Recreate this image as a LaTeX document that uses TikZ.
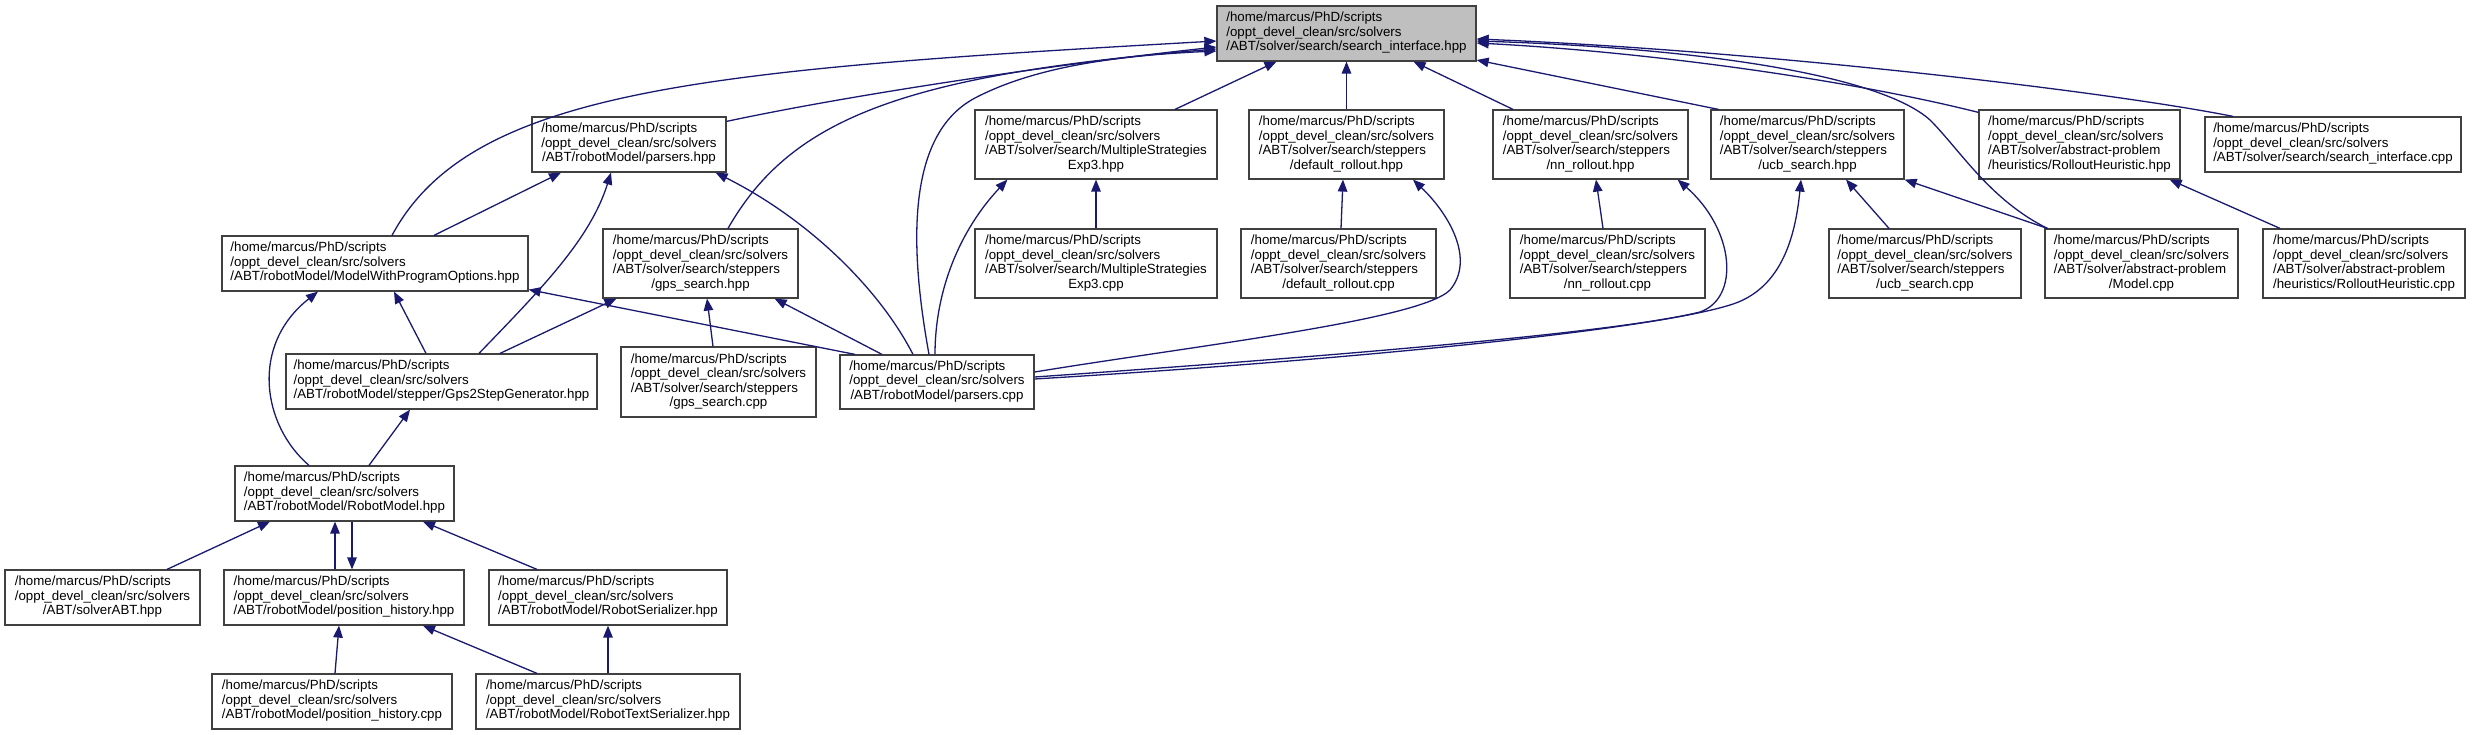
\documentclass[tikz,border=0pt]{standalone}
\usepackage{fontspec}
\setmainfont{Liberation Sans}
\usetikzlibrary{arrows.meta}
\definecolor{edgeblue}{RGB}{25,25,112}
\definecolor{boxline}{RGB}{64,64,64}
\definecolor{rootfill}{RGB}{191,191,191}
\newcommand{\lbl}[2]{\begin{tabular}{@{}l@{}}#1\\\multicolumn{1}{@{}c@{}}{#2}\end{tabular}}
\newcommand{\hd}{/home/marcus/PhD/scripts\\/oppt\_devel\_clean/src/solvers}
\begin{document}
\begin{tikzpicture}[x=1pt,y=1pt,
  font=\fontsize{13.3}{14.5}\selectfont,
  fbox/.style={draw=boxline, line width=1.2pt, fill=white, inner sep=0pt, minimum height=55pt},
  fbox4/.style={fbox, minimum height=69pt},
  dep/.style={draw=edgeblue, line width=1.3pt, -{Triangle[length=12pt,width=9.5pt]}}]
\useasboundingbox (0,0) rectangle (2478,-735);
% row 0
\node[fbox, fill=rootfill, minimum width=259pt] (root) at (1346.5,-33.5) {\lbl{\hd}{/ABT/solver/search/search\_interface.hpp}};
% row 1
\node[fbox, minimum width=194pt] (parsersH) at (629,-144.5) {\lbl{\hd}{/ABT/robotModel/parsers.hpp}};
\node[fbox4, minimum width=242pt] (mse3H) at (1096,-144.5) {\lbl{\hd\\/ABT/solver/search/MultipleStrategies}{Exp3.hpp}};
\node[fbox4, minimum width=195pt] (drH) at (1346.5,-144.5) {\lbl{\hd\\/ABT/solver/search/steppers}{/default\_rollout.hpp}};
\node[fbox4, minimum width=195pt] (nnH) at (1590.5,-144.5) {\lbl{\hd\\/ABT/solver/search/steppers}{/nn\_rollout.hpp}};
\node[fbox4, minimum width=193pt] (ucbH) at (1807.5,-144.5) {\lbl{\hd\\/ABT/solver/search/steppers}{/ucb\_search.hpp}};
\node[fbox4, minimum width=201pt] (rhH) at (2079.5,-144.5) {\lbl{\hd\\/ABT/solver/abstract-problem}{/heuristics/RolloutHeuristic.hpp}};
\node[fbox, minimum width=256pt] (sicpp) at (2333,-144.5) {\lbl{\hd}{/ABT/solver/search/search\_interface.cpp}};
% row 2
\node[fbox, minimum width=306pt] (mwpo) at (375,-263.5) {\lbl{\hd}{/ABT/robotModel/ModelWithProgramOptions.hpp}};
\node[fbox4, minimum width=195pt] (gpsH) at (700.5,-263.5) {\lbl{\hd\\/ABT/solver/search/steppers}{/gps\_search.hpp}};
\node[fbox4, minimum width=242pt] (mse3C) at (1096,-263.5) {\lbl{\hd\\/ABT/solver/search/MultipleStrategies}{Exp3.cpp}};
\node[fbox4, minimum width=195pt] (drC) at (1338.5,-263.5) {\lbl{\hd\\/ABT/solver/search/steppers}{/default\_rollout.cpp}};
\node[fbox4, minimum width=195pt] (nnC) at (1607.5,-263.5) {\lbl{\hd\\/ABT/solver/search/steppers}{/nn\_rollout.cpp}};
\node[fbox4, minimum width=192pt] (ucbC) at (1925,-263.5) {\lbl{\hd\\/ABT/solver/search/steppers}{/ucb\_search.cpp}};
\node[fbox4, minimum width=193pt] (modelC) at (2141.5,-263.5) {\lbl{\hd\\/ABT/solver/abstract-problem}{/Model.cpp}};
\node[fbox4, minimum width=202pt] (rhC) at (2364,-263.5) {\lbl{\hd\\/ABT/solver/abstract-problem}{/heuristics/RolloutHeuristic.cpp}};
% row 3
\node[fbox, minimum width=311pt] (gps2) at (441.5,-381.5) {\lbl{\hd}{/ABT/robotModel/stepper/Gps2StepGenerator.hpp}};
\node[fbox4, minimum width=195pt, minimum height=70pt] (gpsC) at (718.5,-382) {\lbl{\hd\\/ABT/solver/search/steppers}{/gps\_search.cpp}};
\node[fbox, minimum width=194pt, minimum height=54pt] (parsersC) at (937,-382) {\lbl{\hd}{/ABT/robotModel/parsers.cpp}};
% row 4
\node[fbox, minimum width=219pt] (robotModel) at (344.5,-493.5) {\lbl{\hd}{/ABT/robotModel/RobotModel.hpp}};
% row 5
\node[fbox, minimum width=195pt] (solverABT) at (102.5,-597.5) {\lbl{\hd}{/ABT/solverABT.hpp}};
\node[fbox, minimum width=240pt] (posH) at (344,-597.5) {\lbl{\hd}{/ABT/robotModel/position\_history.hpp}};
\node[fbox, minimum width=238pt] (robotSer) at (608,-597.5) {\lbl{\hd}{/ABT/robotModel/RobotSerializer.hpp}};
% row 6
\node[fbox, minimum width=240pt] (posC) at (332,-701.5) {\lbl{\hd}{/ABT/robotModel/position\_history.cpp}};
\node[fbox, minimum width=264pt] (rtSer) at (608,-701.5) {\lbl{\hd}{/ABT/robotModel/RobotTextSerializer.hpp}};
% edges to root
\draw[dep] ([xshift=17pt]mwpo.north) .. controls (470,-90) and (700,-70) .. ([yshift=-7.5pt]root.west);
\draw[dep] ([yshift=-5pt]parsersH.north east) .. controls (850,-95) and (1050,-65) .. ([yshift=-13.5pt]root.west);
\draw[dep] ([xshift=27.5pt]gpsH.north) .. controls (790,-120) and (900,-75) .. ([yshift=-15.5pt]root.west);
\draw[dep] ([xshift=-8pt]parsersC.north) .. controls (910,-250) and (905,-135) .. (975,-98) .. controls (1040,-64) and (1130,-55) .. ([yshift=-17.5pt]root.west);
\draw[dep] ([xshift=79pt]mse3H.north) -- ([xshift=-70pt]root.south);
\draw[dep] (drH.north) -- (root.south);
\draw[dep] ([xshift=-77.5pt]nnH.north) -- ([xshift=67pt]root.south);
\draw[dep] ([xshift=8pt]ucbH.north west) -- ([yshift=-26.5pt]root.east);
\draw[dep] ([yshift=-3pt]rhH.north west) .. controls (1850,-80) and (1650,-52) .. ([yshift=-9.5pt]root.east);
\draw[dep] ([xshift=-100pt]sicpp.north) .. controls (2100,-90) and (1750,-50) .. ([yshift=-5.5pt]root.east);
\draw[dep] ([xshift=3pt]modelC.north west) .. controls (1990,-200) and (1960,-150) .. (1930,-120) .. controls (1880,-75) and (1700,-48) .. ([yshift=-7.5pt]root.east);
% other edges
\draw[dep] ([xshift=59pt]mwpo.north) -- ([xshift=-68pt]parsersH.south);
\draw[dep] ([xshift=37.5pt]gps2.north) .. controls (540,-290) and (590,-240) .. ([xshift=-18pt]parsersH.south);
\draw[dep] ([xshift=-24pt]parsersC.north) .. controls (880,-290) and (810,-220) .. ([xshift=-11pt]parsersH.south east);
\draw[dep] ([xshift=-82pt]parsersC.north) -- ([yshift=2pt]mwpo.south east);
\draw[dep] ([xshift=-55pt]parsersC.north) -- ([xshift=-24pt]gpsH.south east);
\draw[dep] ([xshift=-2pt]parsersC.north) .. controls (935,-290) and (960,-230) .. ([xshift=33pt]mse3H.south west);
\draw[dep] (mse3C.north) -- (mse3H.south);
\draw[dep] ([xshift=2.5pt]drC.north) -- ([xshift=-3.5pt]drH.south);
\draw[dep] ([yshift=10pt]parsersC.east) .. controls (1200,-345) and (1420,-320) .. (1450,-290) .. controls (1475,-260) and (1450,-215) .. ([xshift=66.5pt]drH.south);
\draw[dep] ([xshift=-4.5pt]nnC.north) -- ([xshift=5.5pt]nnH.south);
\draw[dep] ([yshift=5pt]parsersC.east) .. controls (1350,-355) and (1620,-332) .. (1700,-312) .. controls (1740,-298) and (1735,-230) .. ([xshift=-11pt]nnH.south east);
\draw[dep] ([yshift=3pt]parsersC.east) .. controls (1350,-360) and (1650,-330) .. (1730,-305) .. controls (1780,-290) and (1795,-240) .. ([xshift=-6.5pt]ucbH.south);
\draw[dep] ([xshift=-36pt]ucbC.north) -- ([xshift=38.5pt]ucbH.south);
\draw[dep] ([xshift=3pt]modelC.north west) -- (ucbH.south east);
\draw[dep] ([xshift=-84pt]rhC.north) -- ([xshift=-11pt]rhH.south east);
\draw[dep] ([xshift=58.5pt]gps2.north) -- ([xshift=14pt]gpsH.south west);
\draw[dep] ([xshift=-5.5pt]gpsC.north) -- ([xshift=6.5pt]gpsH.south);
\draw[dep] ([xshift=-15.5pt]gps2.north) -- ([xshift=19pt]mwpo.south);
\draw[dep] ([xshift=-35.5pt]robotModel.north) .. controls (262,-425) and (250,-345) .. ([xshift=-57pt]mwpo.south);
\draw[dep] ([xshift=24.5pt]robotModel.north) -- ([xshift=-31.5pt]gps2.south);
\draw[dep] ([xshift=64.5pt]solverABT.north) -- ([xshift=-74.5pt]robotModel.south);
\draw[dep] ([xshift=-9pt]posH.north) -- ([xshift=-9.5pt]robotModel.south);
\draw[dep] ([xshift=7.5pt]robotModel.south) -- ([xshift=8pt]posH.north);
\draw[dep] ([xshift=-71pt]robotSer.north) -- ([xshift=78.5pt]robotModel.south);
\draw[dep] ([xshift=3pt]posC.north) -- ([xshift=-5pt]posH.south);
\draw[dep] ([xshift=-71pt]rtSer.north) -- ([xshift=79pt]posH.south);
\draw[dep] (rtSer.north) -- (robotSer.south);
\end{tikzpicture}
\end{document}
